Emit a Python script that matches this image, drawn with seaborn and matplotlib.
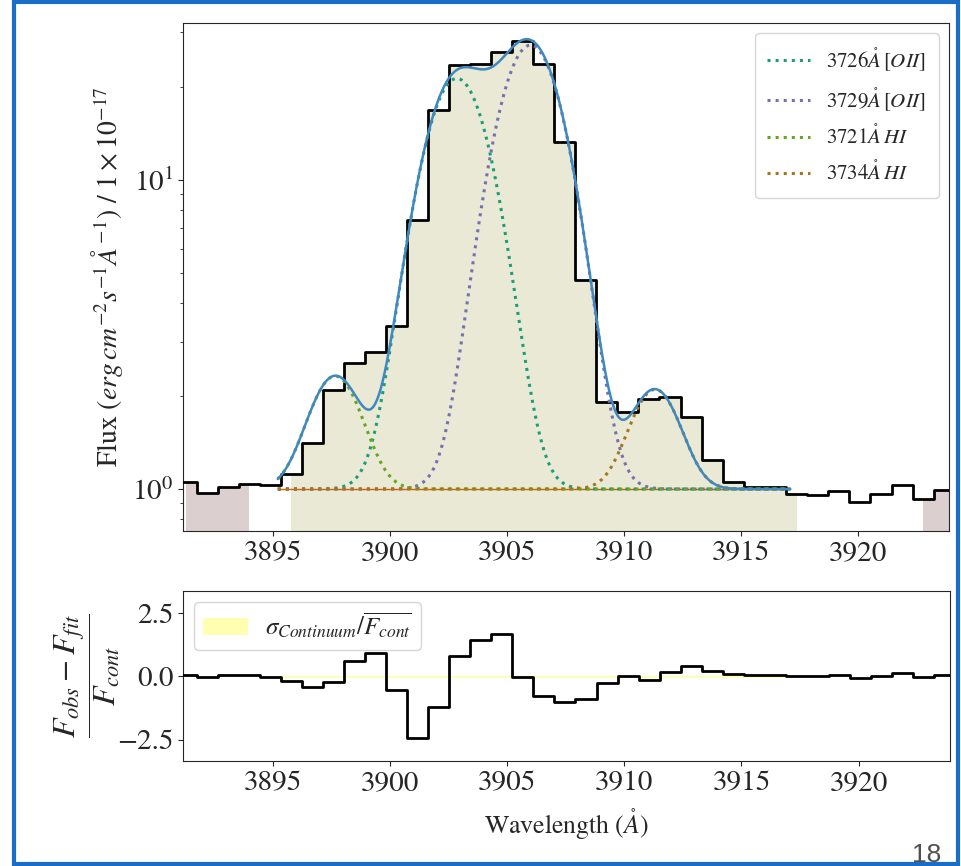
import numpy as np
import seaborn as sns
import matplotlib
matplotlib.use("Agg")
import matplotlib.pyplot as plt
from matplotlib.patches import Rectangle

# Observed spectrum: pixel centres (Angstrom), flux in units of 1e-17 erg/cm2/s/A
wavelength = [3890.40, 3891.29, 3892.19, 3893.09, 3893.98, 3894.88, 3895.78,
              3896.67, 3897.57, 3898.47, 3899.37, 3900.26, 3901.16, 3902.06,
              3902.96, 3903.86, 3904.76, 3905.66, 3906.56, 3907.46, 3908.36,
              3909.26, 3910.16, 3911.06, 3911.96, 3912.86, 3913.76, 3914.66,
              3915.56, 3916.46, 3917.37, 3918.27, 3919.17, 3920.07, 3920.98,
              3921.88, 3922.78, 3923.68, 3924.59]
flux = [1.04, 1.05, 0.97, 1.015, 1.035, 1.03, 1.115,
        1.41, 2.09, 2.56, 2.78, 3.36, 7.40, 16.8,
        23.5, 23.8, 26.0, 28.2, 23.8, 13.3, 4.76,
        1.91, 1.77, 1.95, 1.99, 1.71, 1.24, 1.05,
        1.015, 1.015, 0.966, 0.954, 0.985, 0.908, 0.966,
        1.028, 0.93, 0.99, 0.99]
# (F_obs - F_fit) / F_cont for every pixel
residual = [0.07, 0.066, -0.013, 0.066, 0.066, -0.013, -0.17,
            -0.44, -0.21, 0.62, 0.93, -0.54, -2.45, -1.23,
            0.82, 1.42, 1.66, -0.01, -0.77, -1.03, -0.90,
            -0.28, 0.01, -0.13, 0.16, 0.42, 0.20, 0.09,
            0.05, 0.05, 0.0, 0.0, 0.07, -0.07, 0.0,
            0.12, -0.03, 0.07, 0.07]

# Fitted model: flat continuum plus four Gaussian components
continuum_level = 1.0
line_labels = [r"$3726\mathring{A}\,[OII]$", r"$3729\mathring{A}\,[OII]$",
               r"$3721\mathring{A}\,HI$", r"$3734\mathring{A}\,HI$"]
line_centers = [3902.85, 3906.00, 3897.65, 3911.32]
line_sigmas = [1.30, 1.30, 1.03, 0.98]
line_amplitudes = [20.3, 26.3, 1.32, 1.10]
fit_window = (3895.2, 3917.1)
sigma_continuum = 0.04

# Pixel windows used for the fit and for the continuum estimate
fit_mask_window = (3895.7, 3917.4)
continuum_windows = [(3891.2, 3894.0), (3922.7, 3925.0)]

sns.set_style("ticks")
plt.rcParams["font.family"] = ["STIXGeneral", "DejaVu Serif"]
plt.rcParams["mathtext.fontset"] = "stix"

palette = sns.color_palette("Dark2", 8)
line_colors = [palette[0], palette[2], palette[4], palette[6]]

wave = np.array(wavelength)
fl = np.array(flux)
res = np.array(residual)

fig = plt.figure(figsize=(9.61, 8.66), dpi=100)
ax = fig.add_axes([0.1904, 0.3863, 0.7976, 0.5872])
axr = fig.add_axes([0.1904, 0.1212, 0.7980, 0.1963], sharex=ax)

# shaded pixel windows
in_fit = (wave >= fit_mask_window[0]) & (wave <= fit_mask_window[1])
in_cont = np.zeros_like(in_fit)
for lo, hi in continuum_windows:
    in_cont |= (wave >= lo) & (wave <= hi)
ax.fill_between(wave, 1e-3, fl, where=in_fit, step="mid",
                color="#e9e9d6", lw=0, zorder=0)
ax.fill_between(wave, 1e-3, fl, where=in_cont, step="mid",
                color="#dccfcf", lw=0, zorder=0)

# observed spectrum
sns.lineplot(x=wave, y=fl, ax=ax, color="black", lw=2.0,
             drawstyle="steps-mid", estimator=None, sort=False, zorder=3)

# model components
grid = np.linspace(fit_window[0], fit_window[1], 600)
ax.plot(grid, np.full_like(grid, continuum_level), color=palette[1], lw=1.0, zorder=2)
total = np.full_like(grid, continuum_level)
handles = []
for lab, c0, s, a, col in zip(line_labels, line_centers, line_sigmas,
                              line_amplitudes, line_colors):
    prof = a * np.exp(-0.5 * ((grid - c0) / s) ** 2)
    total = total + prof
    sns.lineplot(x=grid, y=continuum_level + prof, ax=ax, color=col, lw=2.2,
                 linestyle=":", estimator=None, sort=False, zorder=4)
    handles.append(plt.Line2D([], [], color=col, lw=2.2, linestyle=":", label=lab))
sns.lineplot(x=grid, y=total, ax=ax, color="#4088c0", lw=1.8,
             estimator=None, sort=False, zorder=5)

ax.set_yscale("log")
ax.set_xlim(3891.15, 3923.9)
ax.set_ylim(0.729, 32.2)
ax.set_ylabel(r"Flux $(erg\,cm^{-2}s^{-1}\AA^{-1})$ / $1\times10^{-17}$",
              fontsize=20, labelpad=5)
ax.tick_params(labelsize=21)
ax.legend(handles=handles, loc="upper right", fontsize=15, labelspacing=0.62,
          handlelength=2.05, borderpad=0.6, framealpha=0.8)

# residual panel
axr.fill_between(grid, -sigma_continuum, sigma_continuum, color="#ffff66",
                 alpha=0.5, lw=0, label=r"$\sigma_{Continuum}/\overline{F_{cont}}$")
sns.lineplot(x=wave, y=res, ax=axr, color="black", lw=2.0,
             drawstyle="steps-mid", estimator=None, sort=False, zorder=3)
axr.set_ylim(-3.35, 3.37)
axr.set_yticks([-2.5, 0.0, 2.5])
axr.set_xticks([3895, 3900, 3905, 3910, 3915, 3920])
axr.tick_params(labelsize=21)
axr.set_xlabel(r"Wavelength $(\mathring{A})$", fontsize=18.5, labelpad=8)
axr.set_ylabel(r"$\dfrac{F_{obs}-F_{fit}}{F_{cont}}$", fontsize=23, labelpad=-4)
axr.legend(loc="upper left", fontsize=18, handlelength=1.8, handleheight=0.65,
           handletextpad=0.68, borderpad=0.35, borderaxespad=0.45, framealpha=0.8)

# slide frame and page number
fig.add_artist(Rectangle((14 / 961, 2 / 866), 944 / 961, 862 / 866,
                         transform=fig.transFigure, fill=False,
                         edgecolor="#1a6dc6", lw=3.0))
fig.text(927 / 961, 1 - 855 / 866, "18", fontsize=19, color="#505050",
         family="Liberation Sans", ha="center", va="center")

fig.savefig("out.png", dpi=100)
